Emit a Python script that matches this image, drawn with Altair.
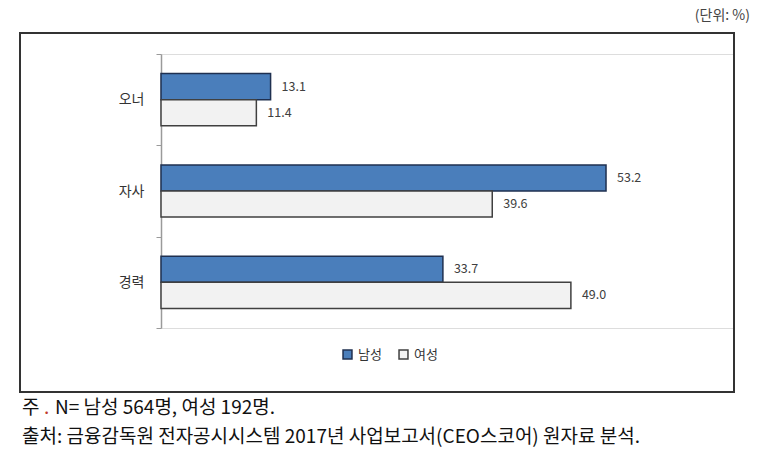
import altair as alt
import pandas as pd

categories = ["오너", "자사", "경력"]
genders = ["남성", "여성"]
male = [13.1, 53.2, 33.7]
female = [11.4, 39.6, 49.0]

unit_text = "(단위: %)"
note_head = "주"
note_dot = "."
note_body = "N= 남성 564명, 여성 192명."
source_line = "출처: 금융감독원 전자공시시스템 2017년 사업보고서(CEO스코어) 원자료 분석."

rows = []
for c, m, f in zip(categories, male, female):
    rows.append({"category": c, "gender": "남성", "value": m})
    rows.append({"category": c, "gender": "여성", "value": f})
df = pd.DataFrame(rows)

FONT = "Noto Sans CJK KR"
W, H = 573, 274

y_enc = alt.Y("category:N", sort=categories,
              scale=alt.Scale(paddingInner=0, paddingOuter=0),
              axis=alt.Axis(title=None, tickBand="extent", tickSize=5, labelPadding=12,
                            labelFontSize=14, labelColor="#333333", labelFont=FONT,
                            domainColor="#9a9a9a", tickColor="#9a9a9a", domainWidth=1.5))
yoff_enc = alt.YOffset("gender:N", sort=genders, scale=alt.Scale(paddingOuter=0.75, paddingInner=0))
x_enc = alt.X("value:Q", scale=alt.Scale(domain=[0, 68.5]), axis=None)

base = alt.Chart(df)

bars = base.mark_bar(strokeWidth=1.5).encode(
    x=x_enc, y=y_enc, yOffset=yoff_enc,
    color=alt.Color("gender:N", sort=genders,
                    scale=alt.Scale(domain=genders, range=["#4a7ebb", "#f2f2f2"]),
                    legend=alt.Legend(title=None, orient="none", legendX=180, legendY=294,
                                      direction="horizontal", symbolType="square",
                                      symbolSize=80, symbolStrokeWidth=1.5,
                                      labelFontSize=13, labelColor="#333333", labelFont=FONT,
                                      columnPadding=14, labelOffset=4)),
    stroke=alt.Stroke("gender:N", sort=genders,
                      scale=alt.Scale(domain=genders, range=["#1f3050", "#404040"]),
                      legend=None),
)

labels = base.mark_text(align="left", baseline="middle", dx=11, fontSize=12.5,
                        color="#404040", font=FONT).encode(
    x=x_enc, y=y_enc, yOffset=yoff_enc, text=alt.Text("value:Q", format=".1f"))

frame = alt.Chart(pd.DataFrame({"k": [0]})).mark_rect(fill=None, stroke="#333333", strokeWidth=2).encode(
    x=alt.value(-141), x2=alt.value(573), y=alt.value(-21), y2=alt.value(338))

unit = alt.Chart(pd.DataFrame({"t": [unit_text]})).mark_text(
    align="right", baseline="middle", fontSize=14, color="#444444", font=FONT).encode(
    x=alt.value(589), y=alt.value(-38), text="t:N")


def note(text, x, y, color="#111111"):
    return alt.Chart(pd.DataFrame({"t": [text]})).mark_text(
        align="left", baseline="middle", fontSize=19, color=color, font=FONT).encode(
        x=alt.value(x), y=alt.value(y), text="t:N")


footer = [
    note(note_head, -139, 354),
    note(note_dot, -117, 354, color="#c0392b"),
    note(note_body, -106, 354),
    note(source_line, -139, 383),
]

chart = alt.layer(frame, bars, labels, unit, *footer).properties(
    width=W, height=H,
    autosize=alt.AutoSizeParams(type="none"),
    padding={"left": 161, "top": 54, "right": 773 - 161 - W, "bottom": 457 - 54 - H},
).configure_view(stroke=None).configure(background="white")

chart.save("out.html", embed_options={"renderer": "svg", "actions": False})
